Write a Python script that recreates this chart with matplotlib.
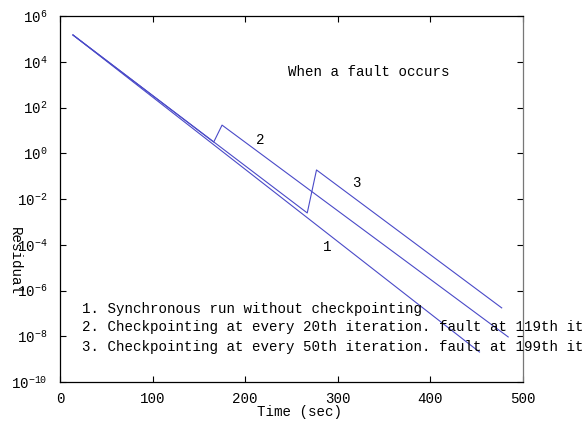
import numpy as np
import matplotlib
matplotlib.use("Agg")
import matplotlib.pyplot as plt

plt.rcParams['font.family'] = ['Liberation Mono', 'DejaVu Sans Mono']
plt.rcParams['mathtext.fontset'] = 'custom'
plt.rcParams['mathtext.rm'] = 'Liberation Mono'
plt.rcParams['mathtext.it'] = 'Liberation Mono'
plt.rcParams['font.size'] = 10.15

# time (sec) and log10(residual)
t_sync = [14, 453]
r_sync = [5.17, -8.69]

t_ck20 = [14, 166, 175, 484]
r_ck20 = [5.17, 0.49, 1.23, -8.03]

t_ck50 = [14, 267, 277, 477]
r_ck50 = [5.17, -2.61, -0.73, -6.76]

legend_lines = [
    "1. Synchronous run without checkpointing",
    "2. Checkpointing at every 20th iteration. fault at 119th iteration",
    "3. Checkpointing at every 50th iteration. fault at 199th iteration",
]

fig = plt.figure(figsize=(5.82, 4.21), dpi=100)
ax = fig.add_axes([60/582, 1 - 382/421, 463/582, 366/421])

col = '#4a4ac8'
for t, r in [(t_sync, r_sync), (t_ck20, r_ck20), (t_ck50, r_ck50)]:
    ax.plot(t, 10.0 ** np.array(r), color=col, lw=0.8)

ax.set_yscale('log')
ax.set_xlim(0, 500)
ax.set_ylim(1e-10, 1e6)
ax.set_xticks([0, 100, 200, 300, 400, 500])
ax.set_yticks([10.0 ** k for k in range(-10, 7, 2)])
ax.set_yticklabels([r'$10^{%d}$' % k for k in range(-10, 7, 2)])
ax.minorticks_off()
ax.tick_params(direction='in', top=True, right=True, length=4, width=0.8)
ax.tick_params(axis='y', pad=9)
ax.tick_params(axis='x', pad=7)
for s in ax.spines.values():
    s.set_linewidth(0.9)
ax.spines['right'].set_color('#777777')

ax.text(246, 10 ** 3.55, "When a fault occurs", va='center', ha='left')
ax.text(212, 10 ** 0.6, "2", va='center', ha='left')
ax.text(315, 10 ** -1.3, "3", va='center', ha='left')
ax.text(284, 10 ** -4.1, "1", va='center', ha='left')

ys = [309, 327, 347]
for txt, y in zip(legend_lines, ys):
    fig.text(82/582, 1 - y/421, txt, va='center', ha='left')

fig.text(300/582, 1 - 412/421, "Time (sec)", ha='center', va='center')
fig.text(15/582, 1 - 261/421, "Residual", rotation=-90, ha='center', va='center')

fig.savefig("out.png", dpi=100)
